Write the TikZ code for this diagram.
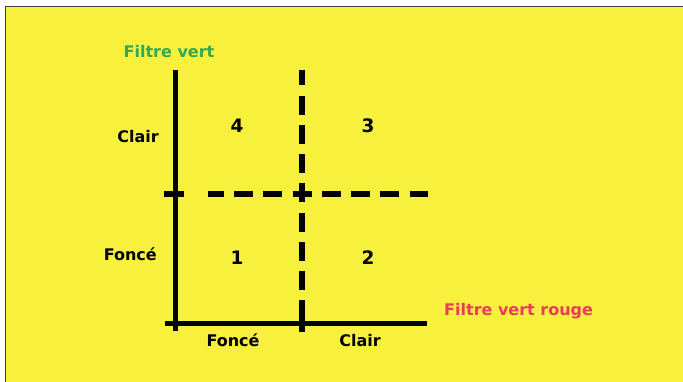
\documentclass[tikz,border=0pt]{standalone}
\usepackage{fontspec}
\setmainfont{DejaVu Sans}
\usetikzlibrary{positioning}
\definecolor{PaperYellow}{RGB}{247,240,60}
\definecolor{FilterGreen}{RGB}{52,168,84}
\definecolor{FilterRed}{RGB}{236,58,92}

\begin{document}
\begin{tikzpicture}[x=1pt,y=-1pt,
    axis/.style={line width=5pt},
    split/.style={line width=5.5pt,dash pattern=on 19pt off 10.3pt},
    lbl/.style={font=\bfseries\fontsize{16}{19}\selectfont,anchor=base,inner sep=0pt},
    num/.style={font=\bfseries\fontsize{18.5}{21}\selectfont,inner sep=0pt}]
  \useasboundingbox (0,0) rectangle (683,382);
  \fill[PaperYellow] (5.5,6.5) rectangle (683,382);
  \draw[line width=1pt,black!75] (5.5,382)--(5.5,6.5)--(683,6.5);
  % axes
  \coordinate (ytop) at (175,70);
  \coordinate (ybot) at (175,331);
  \coordinate (xl) at (165,323);
  \coordinate (xr) at (427,323);
  \draw[axis] (ytop)--(ybot);
  \draw[axis] (xl)--(xr);
  % dashed split lines
  \coordinate (vtop) at (302,70);
  \coordinate (vbot) at (302,332);
  \coordinate (vtick) at (302,300);
  \coordinate (hl) at (208,194);
  \coordinate (hr) at (428,194);
  \coordinate (tickl) at (164,194);
  \coordinate (tickr) at (184,194);
  \draw[split,dash phase=3.7pt] (vtop)--(vbot);
  \draw[split,dash phase=3.4pt] (hl)--(hr);
  \draw[line width=5.5pt] (tickl)--(tickr);
  \draw[line width=5.5pt] (vtick)--(vbot);
  % labels
  \node[lbl,FilterGreen] (vert) at (169,57.3) {Filtre vert};
  \node[lbl,FilterRed,anchor=base west] (rouge) at (444,315) {Filtre vert rouge};
  \node[lbl,anchor=base east] (clairY) at (159,143) {Clair};
  \node[lbl,anchor=base east] (fonceY) at (157,261) {Foncé};
  \node[lbl] (fonceX) at (233,346.7) {Foncé};
  \node[lbl] (clairX) at (360,346.7) {Clair};
  % quadrants
  \node[num] (q4) at (237,126) {4};
  \node[num] (q3) at (368,126) {3};
  \node[num] (q1) at (237,258) {1};
  \node[num] (q2) at (368,258) {2};
\end{tikzpicture}
\end{document}
